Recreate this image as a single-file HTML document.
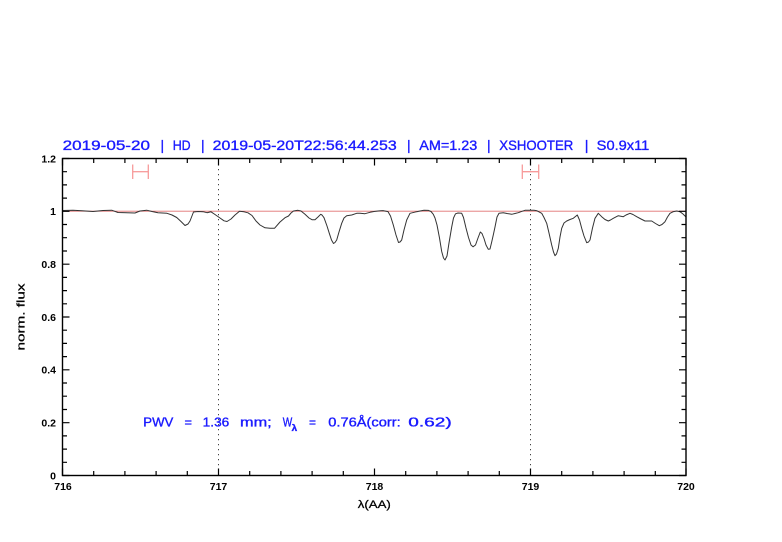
<!DOCTYPE html>
<html>
<head>
<meta charset="utf-8">
<style>
html,body{margin:0;padding:0;background:#fff;}
svg{display:block;}
</style>
</head>
<body>
<svg width="782" height="542" viewBox="0 0 782 542" xmlns="http://www.w3.org/2000/svg">
<rect width="782" height="542" fill="#fff"/>

<!-- title -->
<g font-family="Liberation Sans, sans-serif" font-size="14" fill="#1a1aff" stroke="#1a1aff" stroke-width="0.35">
  <text x="62.7" y="150" textLength="87.3" lengthAdjust="spacingAndGlyphs">2019-05-20</text>
  <text x="160.5" y="150">|</text>
  <text x="172.7" y="150" textLength="18" lengthAdjust="spacingAndGlyphs">HD</text>
  <text x="201" y="150">|</text>
  <text x="212.7" y="150" textLength="184" lengthAdjust="spacingAndGlyphs">2019-05-20T22:56:44.253</text>
  <text x="407" y="150">|</text>
  <text x="419.3" y="150" textLength="58" lengthAdjust="spacingAndGlyphs">AM=1.23</text>
  <text x="487" y="150">|</text>
  <text x="499.3" y="150" textLength="74" lengthAdjust="spacingAndGlyphs">XSHOOTER</text>
  <text x="584.7" y="150">|</text>
  <text x="596.7" y="150" textLength="52.6" lengthAdjust="spacingAndGlyphs">S0.9x11</text>
</g>

<!-- reference line at 1 -->
<line x1="62.5" y1="211.2" x2="686" y2="211.2" stroke="#e07070" stroke-width="0.9"/>

<!-- dotted verticals -->
<line x1="218.5" y1="159" x2="218.5" y2="475" stroke="#444" stroke-width="1" stroke-dasharray="1.2,3.8"/>
<line x1="530.5" y1="159" x2="530.5" y2="475" stroke="#444" stroke-width="1" stroke-dasharray="1.2,3.8"/>

<!-- red error bars -->
<g stroke="#f79a9a" stroke-width="1.3" fill="none">
  <line x1="132.7" y1="171.7" x2="148.3" y2="171.7"/>
  <line x1="132.7" y1="164.5" x2="132.7" y2="179"/>
  <line x1="148.3" y1="164.5" x2="148.3" y2="179"/>
  <line x1="522.3" y1="171.7" x2="538.7" y2="171.7"/>
  <line x1="522.3" y1="164.5" x2="522.3" y2="179"/>
  <line x1="538.7" y1="164.5" x2="538.7" y2="179"/>
</g>

<!-- spectrum -->
<polyline fill="none" stroke="#333" stroke-width="1" stroke-linejoin="round" points="
62.7,210.5 73,210.2 82,210.8 93,211.5 103,210.5 111.7,210.2 118,212.5 127,212.8 135,213 140,211 146.7,210.2 152,211.5 158,212.8 167,213.3 172,215 176.7,217.5 181,221.5 185,225.5 188,224 190,221 193.5,212 198,211.5 203,211.7 207,212.7 211,211.8 215,214.5 220,218 224,220.8 227,221.5 231,219 235,215 239.5,211.3 244,211.8 248,212.8 252,215.5 256,221 260,225 265,227.8 270,228.3 274.5,228.3 280,222 285,217.7 288.5,216 291,213 293.5,211 298,210.3 301,211 305,214.3 309,218 312,219.7 315,219.7 318,217 320.7,214.3 322,215 324,217.7 327,226 329.3,233.3 331.5,240 333.5,243.5 335,242.5 336.7,240 339,232 341.7,223.3 344,218 346.7,215.7 351.7,215 356.7,213.3 360,213.2 365,213.7 370,212.3 374,211.5 378,211 383,210.6 388,211.6 390.5,216 393.3,225 396,235 398.5,242.5 400,242 401.7,240 404,230 406.7,220 410,213.3 416.7,211.7 420,211 424,210.3 428.5,210.4 431,211.5 433.3,214.3 435,218 437,225 439.5,238 441.7,251.5 443.5,258 445,260 447,256 449,243 451.7,227 453.5,218 455.5,213.8 458,213 461.7,213.3 463.5,217.5 466,228 468.5,237.5 471,245 473,246.8 475.5,245 478,238 480.3,232 482,233.5 484,238.5 486,245 488.3,249.3 490,249 491.7,242 493.5,234 495,227 497,217 499,213.3 503.3,212.7 507,213.5 511.7,214.3 515,213.5 518.3,212.7 522,211.3 525,210.3 530,210.3 534,210.3 537,210.8 541.7,213.3 544,217.5 546.7,223.3 549,233 551.7,245 553.5,252 555,255.7 556.5,254 558.3,248.3 560,237 561.7,228.3 564,223 566.7,221 570,219.5 573.3,218.3 577.3,215 579.5,220 581.7,228.3 584,236 586.7,242.7 588.5,242 590,240 592.5,228 595,218.3 598.3,213.3 601.7,216.7 605,219.5 608.3,221 610.5,220 613.3,218.3 618.3,215.7 623.3,216.7 626,215 630,213.3 633,214.5 636.7,216.7 641,219 645,221 648,221 651.7,221 655.5,223.5 659.3,225.7 662,224.5 665,221.7 667.5,217 670,213.3 673,211.8 676.7,211 680,211.7 683,214 686,217"/>

<!-- axes box -->
<rect x="62.5" y="158.5" width="623.5" height="317" fill="none" stroke="#000" stroke-width="1.4"/>

<!-- ticks -->
<g stroke="#000" stroke-width="1.2">
  <path d="M62.5,475.5v-7 M218.5,475.5v-7 M374.5,475.5v-7 M530.5,475.5v-7 M686,475.5v-7
           M62.5,158.5v7 M218.5,158.5v7 M374.5,158.5v7 M530.5,158.5v7 M686,158.5v7"/>
  <path d="M93.7,475.5v-4.5 M124.9,475.5v-4.5 M156.1,475.5v-4.5 M187.3,475.5v-4.5
           M249.7,475.5v-4.5 M280.9,475.5v-4.5 M312.1,475.5v-4.5 M343.3,475.5v-4.5
           M405.7,475.5v-4.5 M436.9,475.5v-4.5 M468.1,475.5v-4.5 M499.3,475.5v-4.5
           M561.7,475.5v-4.5 M592.9,475.5v-4.5 M624.1,475.5v-4.5 M655.3,475.5v-4.5
           M93.7,158.5v4.5 M124.9,158.5v4.5 M156.1,158.5v4.5 M187.3,158.5v4.5
           M249.7,158.5v4.5 M280.9,158.5v4.5 M312.1,158.5v4.5 M343.3,158.5v4.5
           M405.7,158.5v4.5 M436.9,158.5v4.5 M468.1,158.5v4.5 M499.3,158.5v4.5
           M561.7,158.5v4.5 M592.9,158.5v4.5 M624.1,158.5v4.5 M655.3,158.5v4.5"/>
  <path d="M62.5,475.5h7 M62.5,422.7h7 M62.5,369.8h7 M62.5,317h7 M62.5,264.2h7 M62.5,211.3h7 M62.5,158.5h7
           M686,475.5h-7 M686,422.7h-7 M686,369.8h-7 M686,317h-7 M686,264.2h-7 M686,211.3h-7 M686,158.5h-7"/>
  <path d="M62.5,462.3h4.5 M62.5,449.1h4.5 M62.5,435.9h4.5 M62.5,409.5h4.5 M62.5,396.2h4.5 M62.5,383h4.5
           M62.5,356.6h4.5 M62.5,343.4h4.5 M62.5,330.2h4.5 M62.5,303.8h4.5 M62.5,290.6h4.5 M62.5,277.4h4.5
           M62.5,251h4.5 M62.5,237.7h4.5 M62.5,224.5h4.5 M62.5,198.1h4.5 M62.5,184.9h4.5 M62.5,171.7h4.5
           M686,462.3h-4.5 M686,449.1h-4.5 M686,435.9h-4.5 M686,409.5h-4.5 M686,396.2h-4.5 M686,383h-4.5
           M686,356.6h-4.5 M686,343.4h-4.5 M686,330.2h-4.5 M686,303.8h-4.5 M686,290.6h-4.5 M686,277.4h-4.5
           M686,251h-4.5 M686,237.7h-4.5 M686,224.5h-4.5 M686,198.1h-4.5 M686,184.9h-4.5 M686,171.7h-4.5"/>
</g>

<!-- tick labels -->
<g font-family="Liberation Sans, sans-serif" font-size="10.5" font-weight="bold" fill="#000">
  <g text-anchor="end">
    <text x="56" y="479.3">0</text>
    <text x="56" y="426.5">0.2</text>
    <text x="56" y="373.6">0.4</text>
    <text x="56" y="320.8">0.6</text>
    <text x="56" y="268">0.8</text>
    <text x="56" y="215.1">1</text>
    <text x="56" y="162.3">1.2</text>
  </g>
  <g text-anchor="middle">
    <text x="63" y="490">716</text>
    <text x="218.5" y="490">717</text>
    <text x="374.5" y="490">718</text>
    <text x="530.5" y="490">719</text>
    <text x="686" y="490">720</text>
  </g>
</g>

<!-- axis labels -->
<g font-family="Liberation Sans, sans-serif" font-size="11" fill="#000" stroke="#000" stroke-width="0.25">
  <text x="374.3" y="508" text-anchor="middle" textLength="33" lengthAdjust="spacingAndGlyphs">λ(AA)</text>
  <text transform="translate(24.5,317) rotate(-90)" text-anchor="middle" textLength="67" lengthAdjust="spacingAndGlyphs">norm. flux</text>
</g>

<!-- PWV annotation -->
<g font-family="Liberation Sans, sans-serif" font-size="12.5" fill="#1a1aff" stroke="#1a1aff" stroke-width="0.35">
  <text x="143.3" y="426.7" textLength="30" lengthAdjust="spacingAndGlyphs">PWV</text>
  <text x="184.5" y="426.7" textLength="7.5" lengthAdjust="spacingAndGlyphs">=</text>
  <text x="202.7" y="426.7" textLength="26.6" lengthAdjust="spacingAndGlyphs">1.36</text>
  <text x="240" y="426.7" textLength="31.7" lengthAdjust="spacingAndGlyphs">mm;</text>
  <text x="282.7" y="426.7" textLength="9.5" lengthAdjust="spacingAndGlyphs">W</text>
  <text x="291.7" y="431" font-size="9.5" font-weight="bold" textLength="5.5" lengthAdjust="spacingAndGlyphs">λ</text>
  <text x="309" y="426.7" textLength="7" lengthAdjust="spacingAndGlyphs">=</text>
  <text x="328.3" y="426.7" textLength="72.4" lengthAdjust="spacingAndGlyphs">0.76Å(corr:</text>
  <text x="408.3" y="426.7" textLength="43.4" lengthAdjust="spacingAndGlyphs">0.62)</text>
</g>
</svg>
</body>
</html>
